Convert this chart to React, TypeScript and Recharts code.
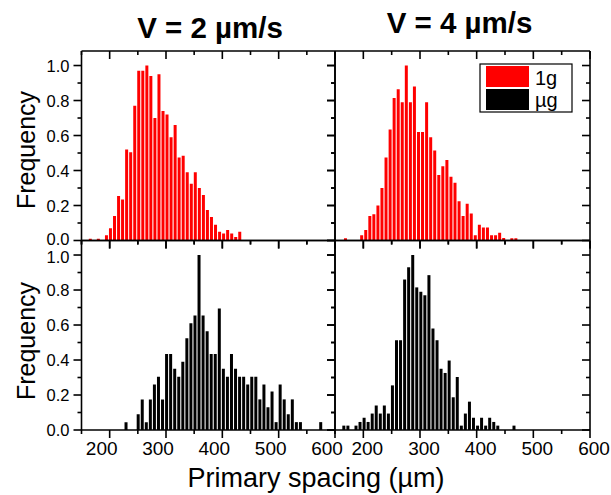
import React from 'react';
import { BarChart, Bar, XAxis, YAxis } from 'recharts';

// ---------------- data ----------------
// V = 2 µm/s, 1g (red)
const TL_X = [166.5, 180.8, 195.2, 202.3, 209.5, 216.7, 223.8, 231.0, 238.2, 245.4, 252.5, 259.7, 266.9, 274.0, 281.2, 288.4, 295.6, 302.7, 309.9, 317.1, 324.2, 331.4, 338.6, 345.8, 352.9, 360.1, 367.3, 374.4, 381.6, 388.8, 396.0, 403.1, 410.3, 417.5, 424.6, 431.8];
const TL_Y = [0.01, 0.01, 0.03, 0.07, 0.14, 0.255, 0.235, 0.52, 0.505, 0.77, 0.97, 0.97, 1.0, 0.94, 0.70, 0.95, 0.74, 0.72, 0.59, 0.66, 0.475, 0.485, 0.39, 0.325, 0.39, 0.30, 0.26, 0.175, 0.135, 0.09, 0.05, 0.04, 0.06, 0.04, 0.02, 0.05];

// V = 4 µm/s, 1g (red)
const TR_X = [167.6, 196.2, 203.4, 210.6, 217.7, 224.9, 232.0, 239.2, 246.4, 253.5, 260.7, 267.8, 275.0, 282.2, 289.3, 296.5, 303.6, 310.8, 318.0, 325.1, 332.3, 339.4, 346.6, 353.8, 360.9, 368.1, 375.2, 382.4, 389.6, 396.7, 403.9, 411.0, 418.2, 425.4, 432.5, 439.7, 446.8, 461.2, 468.3];
const TR_Y = [0.013, 0.03, 0.06, 0.14, 0.15, 0.20, 0.30, 0.475, 0.635, 0.815, 0.865, 0.79, 1.0, 0.79, 0.88, 0.62, 0.62, 0.79, 0.59, 0.515, 0.375, 0.425, 0.46, 0.365, 0.33, 0.225, 0.14, 0.21, 0.155, 0.03, 0.09, 0.075, 0.075, 0.03, 0.03, 0.045, 0.015, 0.013, 0.013];

// V = 2 µm/s, µg (black)
const BL_X = [228.2, 249.8, 257.0, 264.2, 271.4, 278.6, 285.8, 293.0, 300.2, 307.4, 314.6, 321.8, 329.0, 336.2, 343.4, 350.6, 357.8, 365.0, 372.2, 379.4, 386.6, 393.8, 401.0, 408.2, 415.4, 422.6, 429.8, 437.0, 444.2, 451.4, 458.6, 465.8, 473.0, 480.2, 487.4, 494.6, 501.8, 509.0, 516.2, 523.4, 530.6, 537.8, 573.8];
const BL_Y = [0.045, 0.09, 0.175, 0.045, 0.175, 0.26, 0.305, 0.175, 0.435, 0.435, 0.35, 0.305, 0.39, 0.525, 0.61, 0.655, 1.0, 0.655, 0.565, 0.435, 0.435, 0.695, 0.35, 0.305, 0.435, 0.35, 0.305, 0.305, 0.26, 0.305, 0.305, 0.175, 0.26, 0.13, 0.22, 0.045, 0.26, 0.175, 0.09, 0.175, 0.045, 0.045, 0.045];

// V = 4 µm/s, µg (black)
const BR_X = [164.7, 171.9, 186.2, 193.3, 200.5, 207.6, 214.8, 221.9, 229.1, 236.2, 243.4, 250.5, 257.7, 264.8, 272.0, 279.1, 286.3, 293.4, 300.6, 307.7, 314.9, 322.0, 329.2, 336.3, 343.5, 350.6, 357.8, 364.9, 372.1, 379.2, 386.4, 393.5, 400.7, 407.8, 415.0, 422.1, 429.3, 436.4, 465.0];
const BR_Y = [0.025, 0.025, 0.025, 0.046, 0.07, 0.046, 0.094, 0.14, 0.094, 0.14, 0.094, 0.255, 0.513, 0.513, 0.86, 0.93, 1.0, 0.815, 0.79, 0.77, 0.885, 0.58, 0.513, 0.35, 0.326, 0.397, 0.187, 0.303, 0.025, 0.094, 0.162, 0.07, 0.025, 0.07, 0.025, 0.07, 0.046, 0.025, 0.025];

const X_TICKS = [150, 200, 250, 300, 350, 400, 450, 500, 550, 600];
const Y_TICKS = [0, 0.1, 0.2, 0.3, 0.4, 0.5, 0.6, 0.7, 0.8, 0.9, 1.0];
const TITLES = ['V = 2 µm/s', 'V = 4 µm/s'];
const Y_LABEL = 'Frequency';
const X_LABEL = 'Primary spacing (µm)';
const LEGEND = [
  { label: '1g', color: '#ff0000' },
  { label: 'µg', color: '#000000' },
];

// ---------------- layout ----------------
const W = 611;
const H = 495;
const FONT = '"Liberation Sans", Arial, Helvetica, sans-serif';
const PL = 81.5;
const PM = 335;
const PR = 590;
const PT = 51;
const PMID = 240.5;
const PB = 430;
const LW = 1.6;
const MAJ = 8;
const MIN = 4;
const AX = 1; // axis band size (must be > 0 for recharts to draw the axis)

const makeXTick = (showLabel: boolean, shift: number) => (props: any) => {
  const { x, y, payload } = props;
  const v = payload.value;
  const major = v % 100 === 0;
  return (
    <g>
      <line x1={x} x2={x} y1={y} y2={y + (major ? MAJ : MIN)} stroke="#000" strokeWidth={LW} />
      {showLabel && major ? (
        <text x={x + shift} y={y + 25} textAnchor="middle" fontFamily={FONT} fontSize={19} fill="#000">
          {v}
        </text>
      ) : null}
    </g>
  );
};

const makeYTick = (showLabel: boolean, isTop: boolean) => (props: any) => {
  const { x, y, payload } = props;
  const v = payload.value;
  const major = Math.round(v * 10) % 2 === 0;
  let nudge = 0;
  if (isTop && v === 0) nudge = -2;
  if (!isTop && v === 1) nudge = 2;
  return (
    <g>
      <line x1={x} x2={x - (major ? MAJ : MIN)} y1={y} y2={y} stroke="#000" strokeWidth={LW} />
      {showLabel && major ? (
        <text x={x - 12} y={y + 6 + nudge} textAnchor="end" fontFamily={FONT} fontSize={16.5} fill="#000">
          {v.toFixed(1)}
        </text>
      ) : null}
    </g>
  );
};

type PanelProps = {
  xs: number[];
  ys: number[];
  color: string;
  box: { left: number; right: number; top: number; bottom: number };
  xLabels: boolean;
  yLabels: boolean;
  shift: number;
  isTop: boolean;
};

function Panel({ xs, ys, color, box, xLabels, yLabels, shift, isTop }: PanelProps) {
  const data = xs.map((x, i) => ({ x, v: ys[i] }));
  const axisLine = { stroke: '#000', strokeWidth: LW };
  const margin = {
    top: box.top - AX,
    left: box.left - AX,
    right: W - box.right - AX,
    bottom: H - box.bottom - AX,
  };
  return (
    <div style={{ position: 'absolute', left: 0, top: 0 }}>
      <BarChart width={W} height={H} data={data} margin={margin}>
        <XAxis
          xAxisId="b"
          dataKey="x"
          type="number"
          domain={[150, 600]}
          ticks={X_TICKS}
          orientation="bottom"
          height={AX}
          tickSize={0}
          tickMargin={0}
          tickLine={false}
          axisLine={axisLine}
          interval={0}
          allowDataOverflow
          tick={makeXTick(xLabels, shift)}
        />
        <XAxis
          xAxisId="t"
          dataKey="x"
          type="number"
          domain={[150, 600]}
          ticks={X_TICKS}
          orientation="top"
          height={AX}
          tickSize={0}
          tickMargin={0}
          tickLine={false}
          axisLine={axisLine}
          interval={0}
          allowDataOverflow
          tick={makeXTick(false, 0)}
        />
        <YAxis
          yAxisId="l"
          type="number"
          domain={[0, 1.083]}
          ticks={Y_TICKS}
          orientation="left"
          width={AX}
          tickSize={0}
          tickMargin={0}
          tickLine={false}
          axisLine={axisLine}
          interval={0}
          allowDataOverflow
          tick={makeYTick(yLabels, isTop)}
        />
        <YAxis
          yAxisId="r"
          type="number"
          domain={[0, 1.083]}
          ticks={Y_TICKS}
          orientation="right"
          width={AX}
          tickSize={0}
          tickMargin={0}
          tickLine={false}
          axisLine={axisLine}
          interval={0}
          allowDataOverflow
          tick={makeYTick(false, isTop)}
        />
        <Bar xAxisId="b" yAxisId="l" dataKey="v" fill={color} barSize={3} isAnimationActive={false} />
      </BarChart>
    </div>
  );
}

export default function App() {
  return (
    <div style={{ position: 'absolute', left: 0, top: 0, width: W, height: H, background: '#fff', overflow: 'hidden' }}>
      <Panel xs={TL_X} ys={TL_Y} color="#ff0000" box={{ left: PL, right: PM, top: PT, bottom: PMID }} xLabels={false} yLabels={true} shift={0} isTop={true} />
      <Panel xs={TR_X} ys={TR_Y} color="#ff0000" box={{ left: PM, right: PR, top: PT, bottom: PMID }} xLabels={false} yLabels={false} shift={0} isTop={true} />
      <Panel xs={BL_X} ys={BL_Y} color="#000000" box={{ left: PL, right: PM, top: PMID, bottom: PB }} xLabels={true} yLabels={true} shift={-8} isTop={false} />
      <Panel xs={BR_X} ys={BR_Y} color="#000000" box={{ left: PM, right: PR, top: PMID, bottom: PB }} xLabels={true} yLabels={false} shift={4} isTop={false} />
      <svg width={W} height={H} style={{ position: 'absolute', left: 0, top: 0 }} fontFamily={FONT}>
        <text x={210} y={38} textAnchor="middle" fontSize={29.5} fontWeight="bold" fill="#000">{TITLES[0]}</text>
        <text x={459.5} y={33} textAnchor="middle" fontSize={29.5} fontWeight="bold" fill="#000">{TITLES[1]}</text>
        <text transform="translate(35,150) rotate(-90)" textAnchor="middle" fontSize={25} fill="#000">{Y_LABEL}</text>
        <text transform="translate(35,341) rotate(-90)" textAnchor="middle" fontSize={25} fill="#000">{Y_LABEL}</text>
        <text x={316} y={487} textAnchor="middle" fontSize={27} fill="#000">{X_LABEL}</text>
        <rect x={480} y={64} width={92} height={48} fill="#fff" stroke="#000" strokeWidth={1.2} />
        {LEGEND.map((it, i) => (
          <g key={it.label}>
            <rect x={486} y={66 + i * 23} width={43} height={21} fill={it.color} />
            <text x={535} y={85 + i * 22} fontSize={20} fill="#000">{it.label}</text>
          </g>
        ))}
      </svg>
    </div>
  );
}
